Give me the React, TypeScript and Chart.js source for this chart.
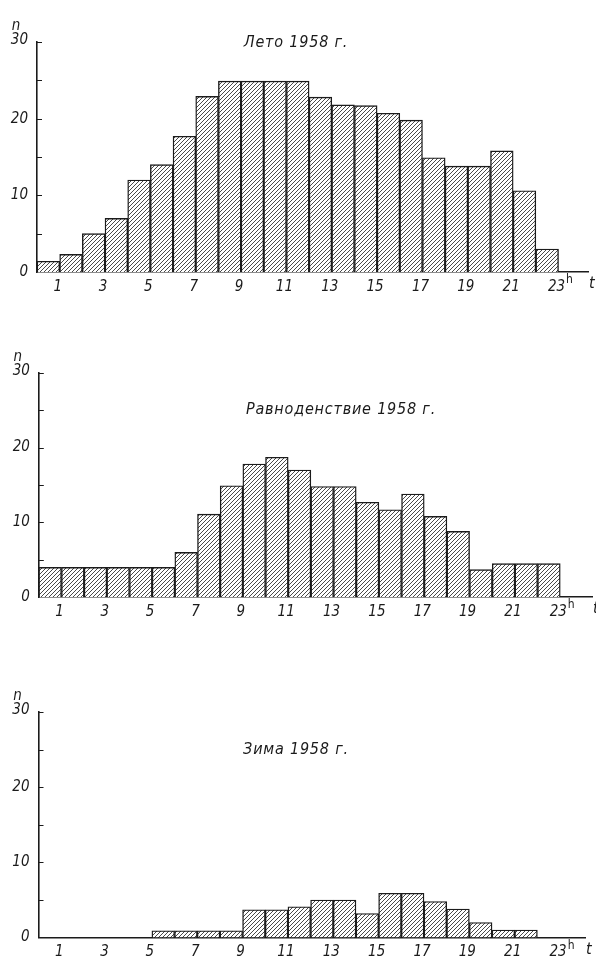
import React, { useEffect, useRef } from "react";
import { Chart, registerables } from "chart.js";

Chart.register(...registerables);

// Hour bins: each bar covers [h, h+1)
const HOURS = [0, 1, 2, 3, 4, 5, 6, 7, 8, 9, 10, 11, 12, 13, 14, 15, 16, 17, 18, 19, 20, 21, 22];

// Number of events n per hour bin
const SUMMER = [1.4, 2.3, 5, 7, 12, 14, 17.7, 22.9, 24.9, 24.9, 24.9, 24.9, 22.8, 21.8, 21.7, 20.7, 19.8, 14.9, 13.8, 13.8, 15.8, 10.6, 3];
const EQUINOX = [4, 4, 4, 4, 4, 4, 6, 11.1, 14.9, 17.8, 18.7, 17, 14.8, 14.8, 12.7, 11.7, 13.8, 10.8, 8.8, 3.7, 4.5, 4.5, 4.5];
const WINTER = [0, 0, 0, 0, 0, 0.9, 0.9, 0.9, 0.9, 3.7, 3.7, 4.1, 5, 5, 3.2, 5.9, 5.9, 4.8, 3.8, 2, 1, 1, 0];

const X_TICKS = [1, 3, 5, 7, 9, 11, 13, 15, 17, 19, 21, 23];
const Y_TICKS = [0, 5, 10, 15, 20, 25, 30];
const Y_LABELS = [0, 10, 20, 30];

const TITLES = ["Лето 1958 г.", "Равноденствие 1958 г.", "Зима 1958 г."];

const FONT_FAMILY = "'DejaVu Sans Condensed', 'DejaVu Sans', sans-serif";
const INK = "#1b1b1b";

type Layout = {
  top: number;
  height: number;
  left: number;
  right: number;
  y30: number;
  y0: number;
  xmax: number;
  titleX: number;
  titleY: number;
};

const LAYOUTS: Layout[] = [
  { top: 0, height: 310, left: 37, right: 588, y30: 42, y0: 272, xmax: 24.3, titleX: 296, titleY: 43 },
  { top: 310, height: 330, left: 38.8, right: 592, y30: 372.7, y0: 597.3, xmax: 24.4, titleX: 341, titleY: 410 },
  { top: 640, height: 323, left: 38.5, right: 585, y30: 712.3, y0: 937.5, xmax: 24.1, titleX: 296, titleY: 750 },
];

function makeHatch(): CanvasPattern | string {
  const size = 4;
  const c = document.createElement("canvas");
  c.width = size;
  c.height = size;
  const g = c.getContext("2d");
  if (!g) return "#ddd";
  g.fillStyle = "#ffffff";
  g.fillRect(0, 0, size, size);
  g.strokeStyle = "#4a4a4a";
  g.lineWidth = 1;
  g.beginPath();
  g.moveTo(-1, size + 1);
  g.lineTo(size + 1, -1);
  g.moveTo(-1, 1);
  g.lineTo(1, -1);
  g.moveTo(size - 1, size + 1);
  g.lineTo(size + 1, size - 1);
  g.stroke();
  return g.createPattern(c, "repeat") || "#ddd";
}

function Histogram({ values, title, layout }: { values: number[]; title: string; layout: Layout }) {
  const ref = useRef<HTMLCanvasElement | null>(null);

  useEffect(() => {
    const canvas = ref.current;
    if (!canvas) return;

    const decor = {
      id: "decor",
      afterDraw(chart: any) {
        const { ctx, chartArea } = chart;
        const xs = chart.scales.x;
        const ys = chart.scales.y;
        ctx.save();
        ctx.fillStyle = INK;
        ctx.strokeStyle = INK;

        // inward ticks on the n axis
        ctx.lineWidth = 1.2;
        ctx.beginPath();
        for (const v of Y_TICKS) {
          if (v === 0) continue;
          const py = Math.round(ys.getPixelForValue(v)) + 0.5;
          ctx.moveTo(chartArea.left, py);
          ctx.lineTo(chartArea.left + 5, py);
        }
        ctx.stroke();

        // n-axis labels
        ctx.font = `italic 15px ${FONT_FAMILY}`;
        ctx.textAlign = "right";
        ctx.textBaseline = "middle";
        for (const v of Y_LABELS) {
          const py = ys.getPixelForValue(v) - (v === 30 ? 2 : 0);
          ctx.fillText(String(v), chartArea.left - 9, py);
        }
        ctx.textAlign = "center";
        ctx.fillText("n", chartArea.left - 21, ys.getPixelForValue(30) - 16);

        // hour labels
        ctx.textAlign = "center";
        for (const h of X_TICKS) {
          const px = xs.getPixelForValue(h);
          ctx.fillText(String(h), px - 2, chartArea.bottom + 15);
          if (h === 23) {
            const w = ctx.measureText(String(h)).width;
            ctx.save();
            ctx.font = `12px ${FONT_FAMILY}`;
            ctx.textAlign = "left";
            ctx.fillText("h", px - 2 + w / 2 + 1, chartArea.bottom + 8);
            ctx.restore();
          }
        }
        ctx.textAlign = "left";
        ctx.font = `italic 16px ${FONT_FAMILY}`;
        ctx.fillText("t", chartArea.right + 1, chartArea.bottom + 12);

        // panel title
        ctx.font = `italic 16px ${FONT_FAMILY}`;
        try {
          (ctx as any).letterSpacing = "0.8px";
        } catch (e) {
          /* older canvases lack letterSpacing */
        }
        ctx.textAlign = "center";
        ctx.fillText(title, layout.titleX, layout.titleY - layout.top);
        ctx.restore();
      },
    };

    const chart = new Chart(canvas, {
      type: "bar",
      data: {
        datasets: [
          {
            data: HOURS.map((h, i) => ({ x: h + 0.5, y: values[i] })),
            backgroundColor: makeHatch() as any,
            borderColor: INK,
            borderWidth: 1.4,
            borderSkipped: "start",
            barPercentage: 1,
            categoryPercentage: 1,
          },
        ],
      },
      options: {
        responsive: false,
        animation: false,
        devicePixelRatio: 1,
        layout: {
          padding: {
            left: layout.left,
            right: 596 - layout.right,
            top: layout.y30 - layout.top,
            bottom: layout.top + layout.height - layout.y0,
          },
        },
        plugins: {
          legend: { display: false },
          tooltip: { enabled: false },
        },
        scales: {
          x: {
            type: "linear",
            min: 0,
            max: layout.xmax,
            offset: false,
            grid: { display: false, drawTicks: false },
            border: { display: true, color: INK, width: 1.6 },
            ticks: { display: false },
            afterBuildTicks: (s: any) => {
              s.ticks = X_TICKS.map((v) => ({ value: v }));
            },
          },
          y: {
            type: "linear",
            min: 0,
            max: 30,
            grid: { display: false, drawTicks: false },
            border: { display: true, color: INK, width: 1.6 },
            ticks: { display: false },
            afterBuildTicks: (s: any) => {
              s.ticks = Y_TICKS.map((v) => ({ value: v }));
            },
          },
        },
      },
      plugins: [decor],
    } as any);

    return () => chart.destroy();
  }, [values, title, layout]);

  return (
    <canvas
      ref={ref}
      width={596}
      height={layout.height}
      style={{ position: "absolute", left: 0, top: layout.top, width: 596, height: layout.height }}
    />
  );
}

export default function App() {
  const series = [SUMMER, EQUINOX, WINTER];
  return (
    <div style={{ position: "absolute", left: 0, top: 0, width: 596, height: 963, background: "#ffffff" }}>
      {series.map((vals, i) => (
        <Histogram key={i} values={vals} title={TITLES[i]} layout={LAYOUTS[i]} />
      ))}
    </div>
  );
}
